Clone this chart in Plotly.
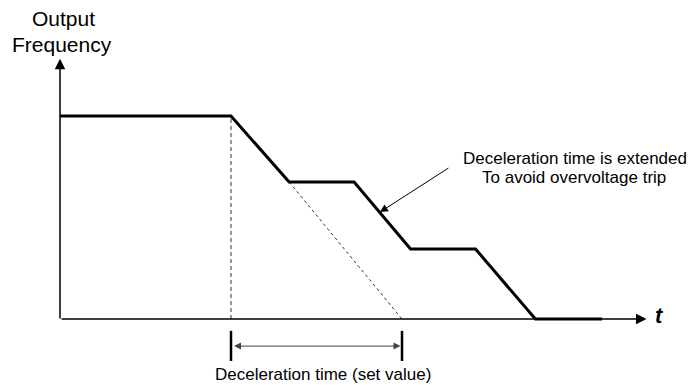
import plotly.graph_objects as go

# Output frequency profile during deceleration with overvoltage stall
time_s = [0, 10, 13.4, 17.2, 20.5, 24.3, 27.8, 31.7]
freq_hz = [60, 60, 40.5, 40.5, 20.7, 20.7, 0, 0]

# Set-value deceleration ramp (start and end of the set deceleration time)
decel_start = 10
decel_end = 20
stall_time = 13.4
stall_freq = 40.5

# Axis extents
t_axis_end = 34.3
f_axis_end = 76.9

# Annotation pointer (tail and tip) on the extended ramp
note_tail = (22.8, 44.9)
note_tip = (18.71, 31.6)

# Dimension line for the set deceleration time
dim_tick_top = -3.5
dim_tick_bottom = -12.4
dim_level = -8.0

FONT = "Liberation Sans, Arial, sans-serif"

fig = go.Figure()

# Vertical dashed marker at the start of deceleration
fig.add_trace(go.Scatter(
    x=[decel_start, decel_start], y=[0, freq_hz[1]], mode="lines",
    line=dict(color="#777777", width=1.5, dash="4px,3px"), hoverinfo="skip"))

# Dashed continuation of the set-value ramp
fig.add_trace(go.Scatter(
    x=[stall_time, decel_end], y=[stall_freq, 0], mode="lines",
    line=dict(color="#333333", width=1, dash="3px,3px"), hoverinfo="skip"))

# Actual output frequency
fig.add_trace(go.Scatter(
    x=time_s, y=freq_hz, mode="lines",
    line=dict(color="black", width=3), hoverinfo="skip"))

# Dimension ticks
for t in (decel_start, decel_end):
    fig.add_trace(go.Scatter(
        x=[t, t], y=[dim_tick_top, dim_tick_bottom], mode="lines",
        line=dict(color="black", width=2.5), hoverinfo="skip"))

annotations = [
    # y axis with arrow
    dict(x=0, y=f_axis_end, ax=0, ay=-0.3, xref="x", yref="y", axref="x", ayref="y",
         text="", showarrow=True, arrowhead=2, arrowsize=1.4, arrowwidth=1.5,
         arrowcolor="black", standoff=0),
    # x axis with arrow
    dict(x=t_axis_end, y=0, ax=0, ay=0, xref="x", yref="y", axref="x", ayref="y",
         text="", showarrow=True, arrowhead=2, arrowsize=1.4, arrowwidth=1.5,
         arrowcolor="black", standoff=0),
    # pointer to the extended ramp
    dict(x=note_tip[0], y=note_tip[1], ax=note_tail[0], ay=note_tail[1],
         xref="x", yref="y", axref="x", ayref="y",
         text="", showarrow=True, arrowhead=2, arrowsize=1.6, arrowwidth=1,
         arrowcolor="black", standoff=0),
    # double-headed dimension arrow
    dict(x=decel_end, y=dim_level, ax=decel_start, ay=dim_level,
         xref="x", yref="y", axref="x", ayref="y",
         text="", showarrow=True, arrowhead=2, startarrowhead=2,
         arrowside="end+start", arrowsize=1.4, startarrowsize=1.4, arrowwidth=1,
         arrowcolor="#444444", standoff=1.5, startstandoff=1.5),
    # texts
    dict(x=63, y=18, xref="paper", yref="paper", text="Output", showarrow=False,
         font=dict(family=FONT, size=21, color="black")),
    dict(x=62, y=44, xref="paper", yref="paper", text="Frequency", showarrow=False,
         font=dict(family=FONT, size=21, color="black")),
    dict(x=575, y=158, xref="paper", yref="paper", text="Deceleration time is extended",
         showarrow=False, font=dict(family=FONT, size=17, color="black")),
    dict(x=574, y=177, xref="paper", yref="paper", text="To avoid overvoltage trip",
         showarrow=False, font=dict(family=FONT, size=17, color="black")),
    dict(x=323, y=374, xref="paper", yref="paper", text="Deceleration time (set value)",
         showarrow=False, font=dict(family=FONT, size=17, color="black")),
    dict(x=659, y=315, xref="paper", yref="paper", text="<b><i>t</i></b>",
         showarrow=False, font=dict(family=FONT, size=22, color="black")),
]

# paper coordinates above are given in pixels; convert to 0..1 and centre
W, H = 689, 385
for a in annotations:
    if a["xref"] == "paper":
        a["x"] = a["x"] / W
        a["y"] = 1 - a["y"] / H
        a["xanchor"] = "center"
        a["yanchor"] = "middle"

fig.update_layout(
    width=W, height=H,
    margin=dict(l=0, r=0, t=0, b=0),
    paper_bgcolor="white", plot_bgcolor="white",
    showlegend=False,
    annotations=annotations,
    xaxis=dict(range=[-3.509, 36.784], visible=False, fixedrange=True),
    yaxis=dict(range=[-19.5, 94.3], visible=False, fixedrange=True),
)

fig.write_html("out.html", config={"displayModeBar": False})
